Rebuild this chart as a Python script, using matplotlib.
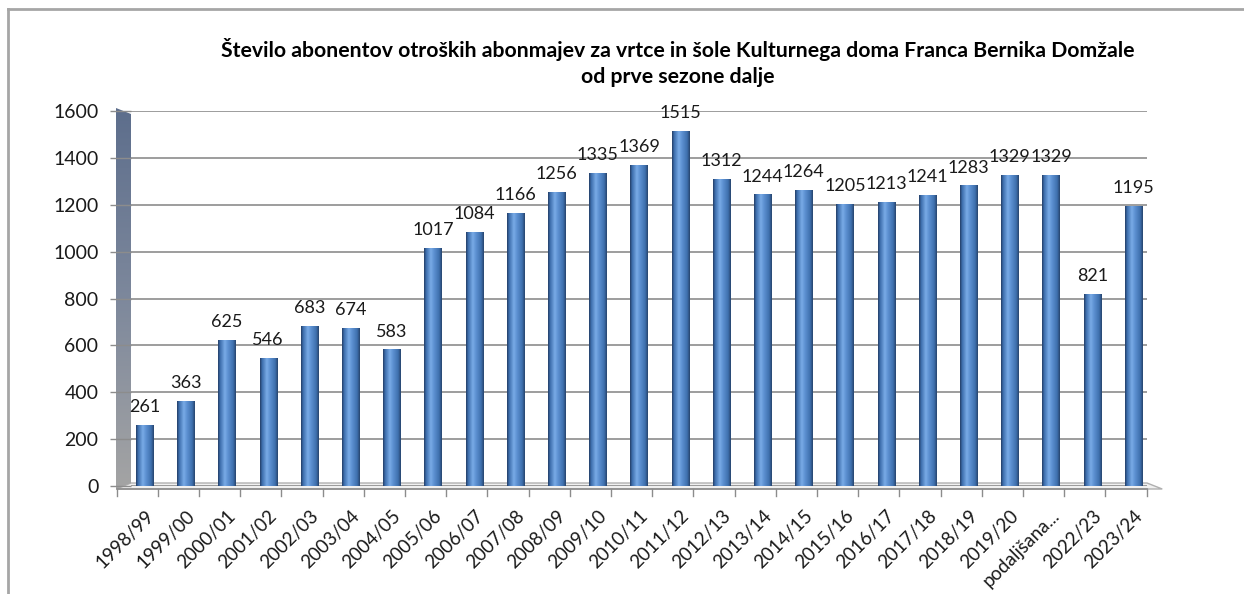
import numpy as np
import matplotlib
matplotlib.use('Agg')
import matplotlib.pyplot as plt
from matplotlib.colors import LinearSegmentedColormap
from matplotlib.patches import Polygon
from matplotlib.transforms import blended_transform_factory

plt.rcParams['font.family'] = ['Lato', 'DejaVu Sans']

# Data
seasons = ['1998/99', '1999/00', '2000/01', '2001/02', '2002/03', '2003/04',
           '2004/05', '2005/06', '2006/07', '2007/08', '2008/09', '2009/10',
           '2010/11', '2011/12', '2012/13', '2013/14', '2014/15', '2015/16',
           '2016/17', '2017/18', '2018/19', '2019/20', 'podaljšana...',
           '2022/23', '2023/24']
subscribers = [261, 363, 625, 546, 683, 674, 583, 1017, 1084, 1166, 1256,
               1335, 1369, 1515, 1312, 1244, 1264, 1205, 1213, 1241, 1283,
               1329, 1329, 821, 1195]
yticks = [0, 200, 400, 600, 800, 1000, 1200, 1400, 1600]

title = ('Število abonentov otroških abonmajev za vrtce in šole Kulturnega doma Franca Bernika Domžale\n'
         'od prve sezone dalje')

W, H = 1244, 594


def px(x, y):
    """pixel (from top-left) -> figure fraction"""
    return x / W, 1 - y / H


fig = plt.figure(figsize=(W / 100, H / 100), dpi=100)
fig.patch.set_facecolor('white')

# main plot area (back wall)
l, t = px(131, 111)
r, b = px(1147, 486)
ax = fig.add_axes([l, b, r - l, t - b])
ax.set_facecolor('none')

n = len(seasons)
x = np.arange(n)
xmin, xmax = -0.33, n - 0.67
front_left = -0.68
bar_w = 0.42

# cylinder-like shading across each bar
cyl = LinearSegmentedColormap.from_list('cyl', [
    (0.0, '#243f68'), (0.12, '#3e6fae'), (0.38, '#79abe6'),
    (0.55, '#5e92d3'), (0.85, '#3f70ae'), (1.0, '#27456f')])
grad = np.linspace(0, 1, 64).reshape(1, -1)

for xi, v in zip(x, subscribers):
    bar = ax.bar(xi, v, width=bar_w, color='#4f81bd', linewidth=0, zorder=3)[0]
    im = ax.imshow(grad, cmap=cyl, aspect='auto', zorder=4,
                   extent=(xi - bar_w / 2, xi + bar_w / 2, 0, v))
    im.set_clip_path(bar)
    ax.annotate(str(v), (xi, v), xytext=(0, 7), textcoords='offset points',
                ha='center', va='bottom', fontsize=13, color='#1a1a1a', zorder=5)

ax.set_xlim(xmin, xmax)
ax.set_ylim(0, 1600)
ax.set_yticks(yticks)
ax.yaxis.grid(True, color='#8c8c8c', linewidth=1.2, zorder=0)
ax.set_axisbelow(True)
for s in ax.spines.values():
    s.set_visible(False)
ax.tick_params(axis='y', length=15, width=1, color='#8c8c8c', pad=8.5,
               labelsize=14, labelcolor='#1a1a1a')
ax.set_xticks(x)
ax.set_xticklabels(seasons, rotation=45, ha='right', rotation_mode='anchor',
                   fontsize=13.5, color='#1a1a1a')
ax.tick_params(axis='x', length=0, pad=15)

# floor and front axis line
bt = blended_transform_factory(ax.transData, fig.transFigure)
y_front = px(0, 489)[1]
y_back = px(0, 483)[1]
floor = Polygon([(front_left, y_front), (xmin, y_back), (xmax, y_back),
                 (xmax + 0.37, y_front)], closed=True, transform=bt,
                facecolor='#f0f0f0', edgecolor='#b0b0b0', linewidth=1,
                clip_on=False, zorder=-1)
fig.add_artist(floor)
ax.plot([front_left, xmax], [y_front, y_front], transform=bt, color='#8c8c8c',
        linewidth=1.2, clip_on=False, zorder=1)
y_tick_end = px(0, 496)[1]
for k in range(n + 1):
    bx = front_left + k
    ax.plot([bx, bx], [y_front, y_tick_end], transform=bt, color='#8c8c8c',
            linewidth=1, clip_on=False, zorder=1)

# left wall with gradient
wl, wt = px(116, 108)
wr, wb = px(131, 489)
wall = fig.add_axes([wl, wb, wr - wl, wt - wb])
wall.set_axis_off()
wall.set_xlim(0, 1)
wall.set_ylim(0, 1)
vgrad = np.linspace(0, 1, 128).reshape(-1, 1)
wall_cmap = LinearSegmentedColormap.from_list('wall', ['#5d6e8c', '#7d889c', '#a4a4a4'])
wim = wall.imshow(vgrad, cmap=wall_cmap, aspect='auto', extent=(0, 1, 0, 1),
                  origin='upper')
wall_shape = Polygon([(0, 1), (1, 1 - 6 / 381), (1, 6 / 381), (0, 0)],
                     closed=True, transform=wall.transData)
wim.set_clip_path(wall_shape)
wall.set_zorder(-0.5)

# title
fig.text(px(678, 0)[0], px(0, 38)[1], title, ha='center', va='top',
         fontsize=15.3, fontweight='bold', linespacing=1.4, color='#000000')

# chart border (left and top)
fig.add_artist(plt.Line2D([px(8, 0)[0], px(8, 0)[0]], [px(0, 9)[1], 0],
                          transform=fig.transFigure, color='#a6a6a6', linewidth=2))
fig.add_artist(plt.Line2D([px(8, 0)[0], 1], [px(0, 9)[1], px(0, 9)[1]],
                          transform=fig.transFigure, color='#a6a6a6', linewidth=2))

fig.savefig('out.png', dpi=100)
